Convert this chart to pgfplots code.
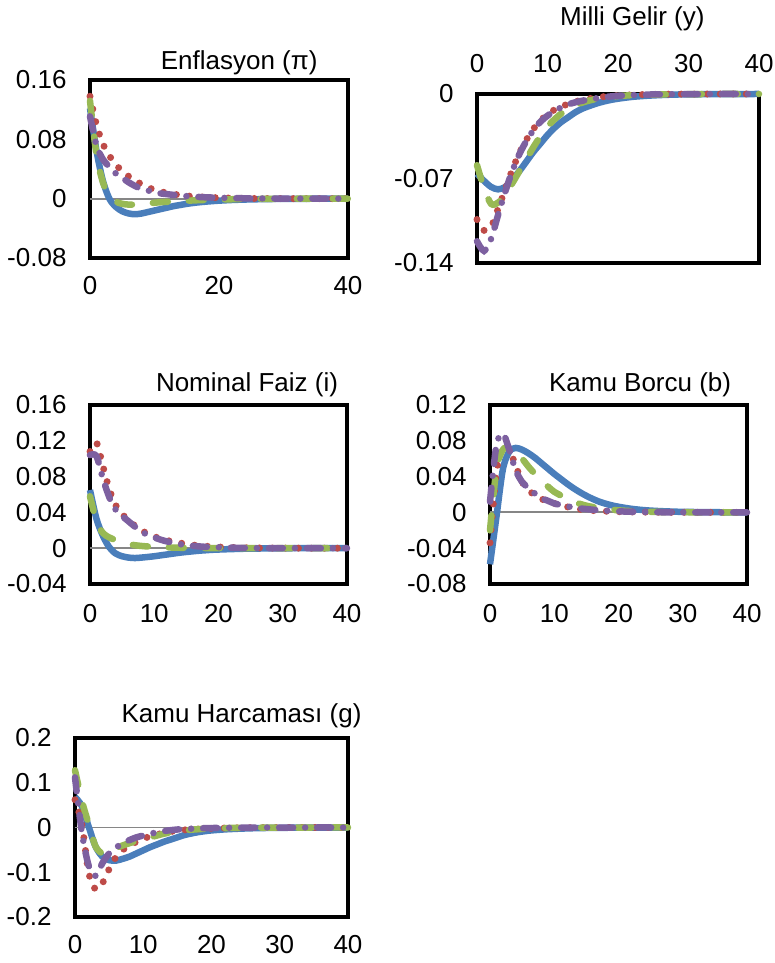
\documentclass[border=0pt]{standalone}
\usepackage{fontspec}
\setmainfont{Liberation Sans}
\usepackage{pgfplots}
\usepackage{pgfplotstable}
\pgfplotsset{compat=1.18}

\definecolor{sblue}{HTML}{4A7EBB}
\definecolor{sred}{HTML}{BE4B48}
\definecolor{sgreen}{HTML}{98B954}
\definecolor{spurple}{HTML}{7D60A0}
\definecolor{zgray}{RGB}{134,134,134}

% t = period, b r g p = the four scenarios
\pgfplotstableread{
t b r g p
0 0.122 0.138 0.132 0.111
1 0.065 0.100 0.060 0.072
2 0.024 0.074 0.022 0.053
3 0.000 0.058 0.004 0.043
4 -0.011 0.046 -0.004 0.034
5 -0.017 0.037 -0.007 0.028
6 -0.020 0.030 -0.008 0.022
7 -0.021 0.025 -0.008 0.017
8 -0.020 0.019 -0.0075 0.013
9 -0.018 0.015 -0.0065 0.011
10 -0.016 0.012 -0.0055 0.0085
11 -0.014 0.0095 -0.0048 0.007
12 -0.012 0.0075 -0.0042 0.006
13 -0.010 0.006 -0.0037 0.005
14 -0.0085 0.0047 -0.0032 0.004
15 -0.007 0.0037 -0.0028 0.0033
16 -0.0058 0.003 -0.0024 0.0027
17 -0.0048 0.0024 -0.002 0.0022
18 -0.004 0.0019 -0.0017 0.0018
19 -0.0033 0.0015 -0.0014 0.0015
20 -0.0027 0.0012 -0.0012 0.0012
22 -0.0018 0.0007 -0.0008 0.0008
24 -0.0012 0.0004 -0.0005 0.0005
26 -0.0008 0.0002 -0.0003 0.0003
28 -0.0005 0.0001 -0.0002 0.0002
30 -0.0003 0.0001 -0.0001 0.0001
35 -0.0001 0 0 0
40 0 0 0 0
}\enf

\pgfplotstableread{
t b r g p
0 -0.066 -0.104 -0.059 -0.122
1 -0.072 -0.113 -0.078 -0.130
2 -0.077 -0.110 -0.091 -0.120
3 -0.079 -0.095 -0.090 -0.100
4 -0.077 -0.079 -0.083 -0.081
5 -0.071 -0.063 -0.074 -0.064
6 -0.064 -0.049 -0.064 -0.050
7 -0.056 -0.038 -0.054 -0.039
8 -0.048 -0.029 -0.044 -0.030
9 -0.041 -0.022 -0.035 -0.023
10 -0.034 -0.017 -0.027 -0.018
11 -0.028 -0.013 -0.021 -0.014
12 -0.023 -0.0105 -0.016 -0.011
13 -0.019 -0.008 -0.012 -0.0085
14 -0.015 -0.0063 -0.009 -0.0068
15 -0.012 -0.005 -0.007 -0.0055
16 -0.0098 -0.0038 -0.0053 -0.0045
17 -0.0078 -0.0029 -0.004 -0.0035
18 -0.0062 -0.0022 -0.003 -0.0027
19 -0.0049 -0.0017 -0.0023 -0.002
20 -0.0039 -0.0013 -0.0017 -0.0015
22 -0.0024 -0.0007 -0.001 -0.0009
24 -0.0015 -0.0004 -0.0006 -0.0005
26 -0.0009 -0.0002 -0.0004 -0.0003
28 -0.0005 -0.0001 -0.0002 -0.0002
30 -0.0003 -0.0001 -0.0001 -0.0001
35 -0.0001 0 0 0
40 0 0 0 0
}\gelir

\pgfplotstableread{
t b r g p
0 0.065 0.108 0.058 0.104
1 0.033 0.118 0.030 0.103
2 0.014 0.092 0.017 0.078
3 0.001 0.066 0.012 0.057
4 -0.006 0.048 0.009 0.043
5 -0.009 0.038 0.006 0.036
6 -0.0105 0.031 0.0045 0.030
7 -0.011 0.025 0.0033 0.024
8 -0.0105 0.020 0.0025 0.019
9 -0.0098 0.016 0.0019 0.0145
10 -0.009 0.013 0.0015 0.012
11 -0.008 0.0105 0.0012 0.0095
12 -0.007 0.0087 0.0009 0.0075
13 -0.006 0.007 0.0007 0.006
14 -0.005 0.0058 0.0005 0.0045
15 -0.0042 0.0046 0.0004 0.0035
16 -0.0035 0.0036 0.0003 0.0026
17 -0.0028 0.0028 0.0002 0.002
18 -0.0023 0.0022 0.0002 0.0015
19 -0.0018 0.0017 0.0001 0.0012
20 -0.0015 0.0013 0.0001 0.001
22 -0.001 0.0008 0 0.0006
24 -0.0006 0.0005 0 0.0003
26 -0.0004 0.0003 0 0.0002
28 -0.0002 0.0002 0 0.0001
30 -0.0001 0.0001 0 0.0001
35 0 0 0 0
40 0 0 0 0
}\faiz

\pgfplotstableread{
t b r g p
0 -0.058 -0.034 -0.020 0.012
1 -0.005 0.045 0.048 0.075
2 0.048 0.074 0.070 0.088
3 0.068 0.070 0.072 0.070
4 0.072 0.052 0.067 0.047
5 0.070 0.034 0.060 0.034
6 0.066 0.025 0.051 0.027
7 0.061 0.019 0.043 0.021
8 0.055 0.015 0.036 0.016
9 0.049 0.0125 0.029 0.013
10 0.043 0.010 0.023 0.010
11 0.0375 0.008 0.019 0.0083
12 0.032 0.0062 0.015 0.0068
13 0.027 0.0047 0.012 0.0055
14 0.0225 0.0035 0.0095 0.0045
15 0.0185 0.0027 0.0075 0.0037
16 0.015 0.0021 0.006 0.003
17 0.012 0.0016 0.0047 0.0024
18 0.0097 0.0013 0.0037 0.0019
19 0.0078 0.001 0.003 0.0015
20 0.0063 0.0008 0.0023 0.0012
22 0.004 0.0005 0.0014 0.0007
24 0.0025 0.0003 0.0009 0.0004
26 0.0016 0.0002 0.0005 0.0002
28 0.001 0.0001 0.0003 0.0001
30 0.0006 0.0001 0.0002 0.0001
35 0.0002 0 0 0
40 0 0 0 0
}\borc

\pgfplotstableread{
t b r g p
0 0.068 0.062 0.128 0.112
1 0.048 0.008 0.060 -0.010
2 0.002 -0.100 0.008 -0.085
3 -0.042 -0.138 -0.042 -0.108
4 -0.065 -0.125 -0.058 -0.080
5 -0.073 -0.093 -0.058 -0.058
6 -0.074 -0.066 -0.047 -0.045
7 -0.070 -0.050 -0.040 -0.035
8 -0.065 -0.040 -0.035 -0.028
9 -0.058 -0.032 -0.030 -0.022
10 -0.051 -0.025 -0.026 -0.018
11 -0.044 -0.020 -0.022 -0.014
12 -0.038 -0.016 -0.018 -0.011
13 -0.032 -0.012 -0.014 -0.008
14 -0.027 -0.009 -0.011 -0.006
15 -0.022 -0.007 -0.0085 -0.0045
16 -0.017 -0.0055 -0.0065 -0.0035
17 -0.0135 -0.0043 -0.005 -0.0027
18 -0.0105 -0.0034 -0.0038 -0.002
19 -0.0083 -0.0027 -0.0029 -0.0016
20 -0.0065 -0.002 -0.0022 -0.0012
22 -0.0042 -0.0012 -0.0013 -0.0007
24 -0.0027 -0.0007 -0.0008 -0.0004
26 -0.0017 -0.0004 -0.0005 -0.0002
28 -0.0011 -0.0002 -0.0003 -0.0001
30 -0.0007 -0.0001 -0.0002 -0.0001
35 -0.0002 0 0 0
40 0 0 0 0
}\harc

\newcommand{\lbl}{\fontsize{26}{31}\selectfont}

\pgfplotsset{
  irf/.style={
    scale only axis,
    xmin=0, xmax=40,
    clip=false,
    tick style={draw=none},
    tick label style={font=\lbl},
    yticklabel style={xshift=-20pt},
  },
  zline/.style={zgray, line width=1.8pt},
  sb/.style={sblue, line width=6.5pt, smooth, tension=0.5},
  sr/.style={sred, line width=7pt, line cap=round, dash pattern=on 0pt off 13pt, smooth, tension=0.5},
  sg/.style={sgreen, line width=6.5pt, line cap=round, dash pattern=on 15pt off 21pt, smooth, tension=0.5},
  sp/.style={spurple, line width=6.5pt, line cap=round, dash pattern=on 14pt off 12pt on 0pt off 12pt, smooth, tension=0.5},
}

% plot area border, drawn under the series
\newcommand{\frm}{\draw[black, line width=3.2pt] (rel axis cs:0,0) rectangle (rel axis cs:1,1);}

\newcommand{\fourlines}[1]{%
  \addplot[sb] table[x=t,y=b] {#1};
  \addplot[sr] table[x=t,y=r] {#1};
  \addplot[sg] table[x=t,y=g] {#1};
  \addplot[sp] table[x=t,y=p] {#1};
}

\begin{document}
\begin{tikzpicture}
\useasboundingbox (0,0) rectangle (774pt,963pt);

% Enflasyon
\begin{axis}[irf, at={(90pt,883pt)}, anchor=north west, width=258pt, height=178pt,
  ymin=-0.08, ymax=0.16,
  ytick={-0.08,0,0.08,0.16}, yticklabels={-0.08,0,0.08,0.16},
  xtick={0,20,40}, xticklabels={0,20,40},
  xticklabel style={yshift=-15pt}]
  \frm
  \addplot[zline] coordinates {(0,0) (40,0)};
  \fourlines{\enf}
  \node[anchor=base, font=\lbl, yshift=10pt] at (rel axis cs:0.578,1) {Enflasyon (π)};
\end{axis}

% Milli Gelir
\begin{axis}[irf, at={(477pt,869pt)}, anchor=north west, width=282pt, height=169pt,
  ymin=-0.14, ymax=0,
  ytick={-0.14,-0.07,0}, yticklabels={-0.14,-0.07,0},
  xtick={0,10,20,30,40}, xticklabels={0,10,20,30,40},
  xticklabel pos=right,
  xticklabel style={yshift=18pt}]
  \frm
  \fourlines{\gelir}
  \node[anchor=base, font=\lbl, yshift=68pt] at (rel axis cs:0.551,1) {Milli Gelir (y)};
\end{axis}

% Nominal Faiz
\begin{axis}[irf, at={(90pt,558pt)}, anchor=north west, width=257pt, height=179pt,
  ymin=-0.04, ymax=0.16,
  ytick={-0.04,0,0.04,0.08,0.12,0.16}, yticklabels={-0.04,0,0.04,0.08,0.12,0.16},
  xtick={0,10,20,30,40}, xticklabels={0,10,20,30,40},
  xticklabel style={yshift=-17pt}]
  \frm
  \addplot[zline] coordinates {(0,0) (40,0)};
  \fourlines{\faiz}
  \node[anchor=base, font=\lbl, yshift=13.5pt] at (rel axis cs:0.611,1) {Nominal Faiz (i)};
\end{axis}

% Kamu Borcu
\begin{axis}[irf, at={(490pt,558pt)}, anchor=north west, width=257pt, height=179pt,
  ymin=-0.08, ymax=0.12,
  ytick={-0.08,-0.04,0,0.04,0.08,0.12}, yticklabels={-0.08,-0.04,0,0.04,0.08,0.12},
  xtick={0,10,20,30,40}, xticklabels={0,10,20,30,40},
  xticklabel style={yshift=-17pt}]
  \frm
  \addplot[zline] coordinates {(0,0) (40,0)};
  \fourlines{\borc}
  \node[anchor=base, font=\lbl, yshift=13.5pt] at (rel axis cs:0.584,1) {Kamu Borcu (b)};
\end{axis}

% Kamu Harcamasi
\begin{axis}[irf, at={(75pt,225pt)}, anchor=north west, width=273pt, height=179pt,
  ymin=-0.2, ymax=0.2,
  ytick={-0.2,-0.1,0,0.1,0.2}, yticklabels={-0.2,-0.1,0,0.1,0.2},
  xtick={0,10,20,30,40}, xticklabels={0,10,20,30,40},
  xticklabel style={yshift=-15pt}]
  \frm
  \addplot[zline] coordinates {(0,0) (40,0)};
  \fourlines{\harc}
  \node[anchor=base, font=\lbl, yshift=15pt] at (rel axis cs:0.61,1) {Kamu Harcaması (g)};
\end{axis}
\end{tikzpicture}
\end{document}
